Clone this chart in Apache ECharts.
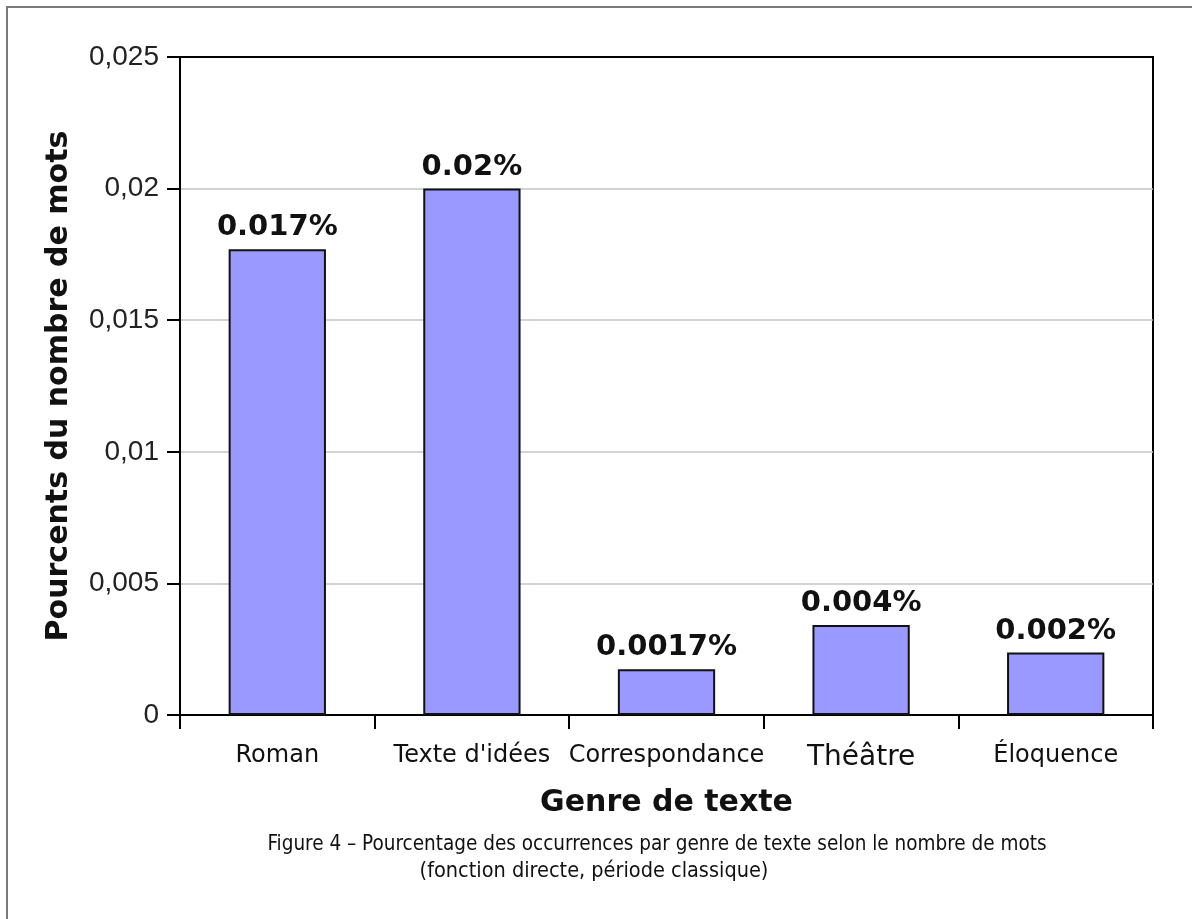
<!DOCTYPE html>
<html>
<head>
<meta charset="utf-8">
<script src="https://cdn.jsdelivr.net/npm/echarts@6/dist/echarts.min.js"></script>
<style>
  html, body { margin: 0; padding: 0; background: #fff; }
  #wrap { position: relative; width: 1192px; height: 919px; overflow: hidden; }
  #chart { position: absolute; left: 0; top: 0; width: 1192px; height: 919px; }
  #frame { position: absolute; left: 6px; top: 6px; width: 1200px; height: 1000px;
           border-left: 2px solid #7a7a7a; border-top: 2px solid #7a7a7a; pointer-events: none; }
</style>
</head>
<body>
<div id="wrap">
  <div id="chart"></div>
  <div id="frame"></div>
</div>
<script>
// ---- data ----
const categories = ["Roman", "Texte d'idées", "Correspondance", "Théâtre", "Éloquence"];
const values = [0.0177, 0.02, 0.00174, 0.00342, 0.00237];
const valueLabels = ["0.017%", "0.02%", "0.0017%", "0.004%", "0.002%"];
const yMin = 0, yMax = 0.025, yStep = 0.005;
const yAxisTitle = "Pourcents du nombre de mots";
const xAxisTitle = "Genre de texte";
const captionLine1 = "Figure 4 – Pourcentage des occurrences par genre de texte selon le nombre de mots";
const captionLine2 = "(fonction directe, période classique)";

const chart = echarts.init(document.getElementById('chart'), null, { renderer: 'canvas' });

const gridColors = ['#c4c4c4', '#c4c4c4', '#c4c4c4', '#c4c4c4', '#c4c4c4', '#000000'];
const captionFont1 = '20.5px "Liberation Sans Narrow", "DejaVu Sans Condensed", sans-serif';
const captionFont2 = '21.5px "Liberation Sans Narrow", "DejaVu Sans Condensed", sans-serif';

const option = {
  backgroundColor: '#ffffff',
  animation: false,
  grid: {
    left: 180, right: 39, top: 57, bottom: 204,
    show: true, borderColor: '#000', borderWidth: 2, backgroundColor: 'transparent'
  },
  xAxis: {
    type: 'category',
    data: categories,
    boundaryGap: true,
    name: xAxisTitle,
    nameLocation: 'middle',
    nameGap: 73,
    nameTextStyle: { fontFamily: 'DejaVu Sans', fontWeight: 'bold', fontSize: 30, color: '#111' },
    axisLine: { show: true, lineStyle: { color: '#000', width: 2 } },
    axisTick: { show: true, interval: 0, alignWithLabel: false, inside: false, length: 14, lineStyle: { color: '#000', width: 2 } },
    axisLabel: {
      interval: 0,
      margin: 29,
      fontFamily: 'DejaVu Sans', fontSize: 24, color: '#111',
      formatter: function (v) { return v === "Théâtre" ? '{big|' + v + '}' : v; },
      rich: { big: { fontFamily: 'DejaVu Sans', fontSize: 28, color: '#111' } }
    },
    splitLine: { show: false }
  },
  yAxis: {
    type: 'value',
    min: yMin, max: yMax, interval: yStep,
    name: yAxisTitle,
    nameLocation: 'middle',
    nameGap: 106,
    nameRotate: 90,
    nameTextStyle: { fontFamily: 'DejaVu Sans', fontWeight: 'bold', fontSize: 30, color: '#111' },
    axisLine: { show: true, lineStyle: { color: '#000', width: 2 } },
    axisTick: { show: true, inside: false, length: 13, lineStyle: { color: '#000', width: 2 } },
    axisLabel: {
      margin: 21,
      fontFamily: 'Liberation Sans', fontSize: 28, color: '#222',
      formatter: function (v) { return String(parseFloat(v.toFixed(4))).replace('.', ','); }
    },
    splitLine: { show: true, lineStyle: { color: gridColors, width: 1.5 } }
  },
  series: [{
    type: 'bar',
    data: values,
    barWidth: '50%',
    itemStyle: { color: '#9999ff', borderColor: '#111', borderWidth: 2 },
    label: {
      show: true,
      position: 'top',
      distance: 7,
      fontFamily: 'DejaVu Sans', fontWeight: 'bold', fontSize: 29, color: '#111',
      formatter: function (p) { return valueLabels[p.dataIndex]; }
    }
  }],
  graphic: [
    {
      type: 'text', x: 657, y: 845,
      style: { text: captionLine1, font: captionFont1, fill: '#111', align: 'center', verticalAlign: 'middle' }
    },
    {
      type: 'text', x: 594, y: 871,
      style: { text: captionLine2, font: captionFont2, fill: '#111', align: 'center', verticalAlign: 'middle' }
    }
  ]
};

chart.setOption(option);
</script>
</body>
</html>
